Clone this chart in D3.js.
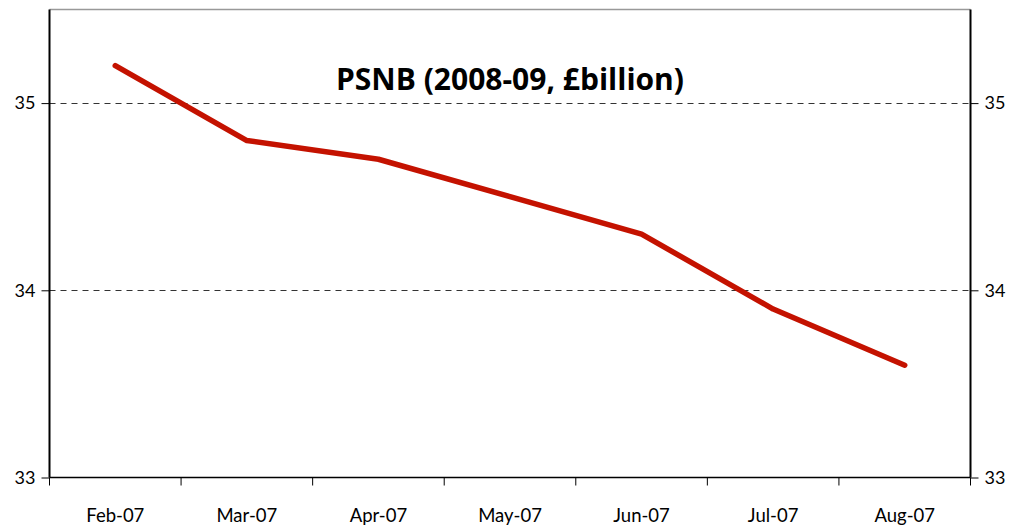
<!DOCTYPE html>
<html><head><meta charset="utf-8">
<script src="https://cdn.jsdelivr.net/npm/d3@7/dist/d3.min.js"></script>
<style>body{margin:0;background:#fff}svg{display:block}</style>
</head><body>
<svg id="c" width="1012" height="531"></svg>
<script>
const categories = ["Feb-07","Mar-07","Apr-07","May-07","Jun-07","Jul-07","Aug-07"];
const psnb = [35.2, 34.8, 34.7, 34.5, 34.3, 33.9, 33.6];
const yTicks = [33, 34, 35];
const title = "PSNB (2008-09, £billion)";

const svg = d3.select("#c");
const L = 49.5, R = 970.5, T = 9.5, B = 477.5;
const font = "Lato, 'Open Sans', sans-serif";

const x = d3.scaleBand().domain(categories).range([L, R]).padding(0);
const y = d3.scaleLinear().domain([33, 35.5]).range([B, T]);

svg.append("g").selectAll("line").data(yTicks.filter(d => d > 33)).join("line")
  .attr("x1", L).attr("x2", R).attr("y1", d => Math.round(y(d)) + 0.5).attr("y2", d => Math.round(y(d)) + 0.5)
  .attr("stroke", "#333").attr("stroke-width", 1).attr("stroke-dasharray", "6,5");

svg.append("line").attr("x1", L).attr("x2", R).attr("y1", T).attr("y2", T)
  .attr("stroke", "#999").attr("stroke-width", 1.5);

const gl = svg.append("g").attr("transform", `translate(${L},0)`)
  .call(d3.axisLeft(y).tickValues(yTicks).tickSize(8).tickPadding(6).tickFormat(d3.format("d")));
const gr = svg.append("g").attr("transform", `translate(${R},0)`)
  .call(d3.axisRight(y).tickValues(yTicks).tickSize(8).tickPadding(6).tickFormat(d3.format("d")));
[gl, gr].forEach(g => {
  g.select(".domain").attr("stroke", "#000").attr("stroke-width", 2).attr("d", `M0,${T}V${B}`);
  g.selectAll(".tick line").attr("stroke", "#000").attr("stroke-width", 1);
  g.selectAll("text").attr("font-family", font).attr("font-size", 18).attr("fill", "#000");
});

const gb = svg.append("g").attr("transform", `translate(0,${B})`)
  .call(d3.axisBottom(x).tickSize(0).tickPadding(31));
gb.select(".domain").attr("stroke", "#000").attr("stroke-width", 1.5).attr("d", `M${L},0H${R}`);
gb.selectAll("text").attr("font-family", font).attr("font-size", 18.5).attr("fill", "#000");
const bounds = categories.map(c => x(c)).concat([x(categories[categories.length-1]) + x.bandwidth()]);
gb.append("g").selectAll("line").data(bounds).join("line")
  .attr("x1", d => d).attr("x2", d => d).attr("y1", 0).attr("y2", 8)
  .attr("stroke", "#000").attr("stroke-width", 1);

const line = d3.line().x((d, i) => x(categories[i]) + x.bandwidth() / 2).y(d => y(d));
svg.append("path").datum(psnb).attr("d", line)
  .attr("fill", "none").attr("stroke", "#C41200").attr("stroke-width", 5.5)
  .attr("stroke-linecap", "round").attr("stroke-linejoin", "round");

svg.append("text").attr("x", 510).attr("y", 90).attr("text-anchor", "middle")
  .attr("font-family", "'Open Sans', Lato, sans-serif").attr("font-weight", "bold").attr("font-size", 30)
  .attr("fill", "#000").text(title);
</script>
</body></html>
